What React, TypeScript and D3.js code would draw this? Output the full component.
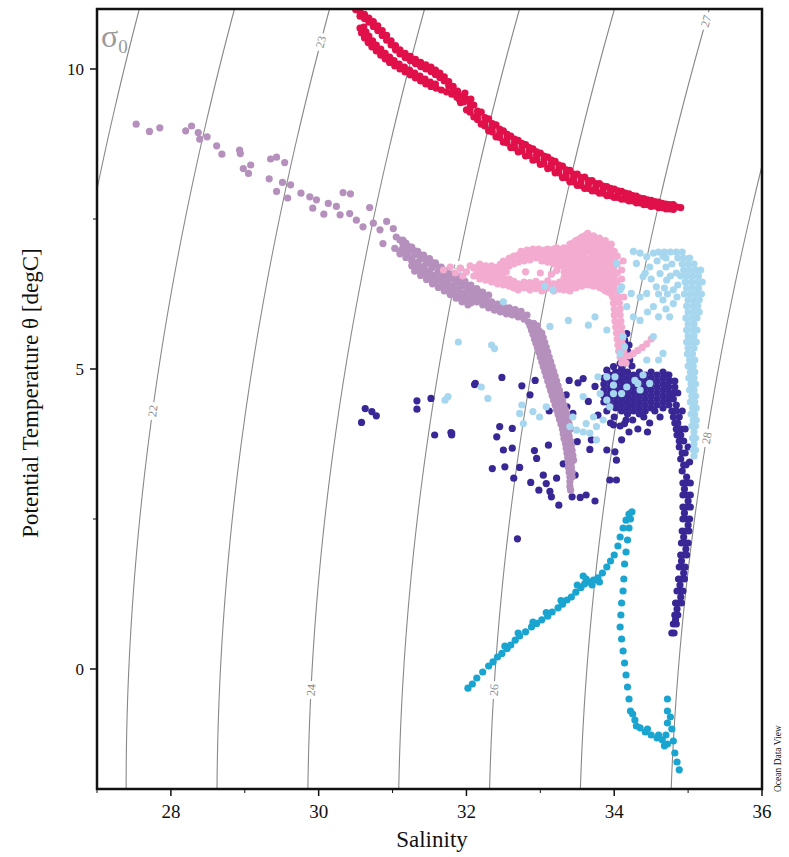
import React from "react";
import * as d3 from "d3";

// ---------- data (Salinity, Potential temperature) ----------
const redSeries: [number, number][] = [
  [30.5,10.99],[30.56,10.95],[30.62,10.91],[30.68,10.85],[30.74,10.79],[30.8,10.72],[30.86,10.64],[30.92,10.56],[30.98,10.47],[31.04,10.39],[31.1,10.32],[31.17,10.26],[31.24,10.21],[31.31,10.16],[31.38,10.11],[31.45,10.07],[31.52,10.03],[31.58,9.98],[31.64,9.93],[31.7,9.87],[31.76,9.79],[31.82,9.71],[31.88,9.63],[31.94,9.55],
  [30.56,10.88],[30.62,10.84],[30.68,10.78],[30.74,10.71],[30.8,10.64],[30.86,10.56],[30.92,10.48],[30.98,10.4],[31.04,10.32],[31.1,10.25],[31.17,10.19],[31.24,10.14],[31.31,10.09],[31.38,10.04],[31.45,10.0],[31.52,9.96],[31.58,9.91],[31.64,9.86],[31.7,9.8],[31.76,9.72],[31.82,9.64],[31.88,9.56],
  [30.56,10.68],[30.58,10.6],[30.62,10.52],[30.67,10.44],[30.72,10.37],[30.78,10.3],[30.84,10.23],[30.9,10.17],[30.96,10.11],[31.03,10.05],[31.1,10.0],[31.17,9.95],[31.24,9.9],[31.31,9.85],[31.38,9.8],[31.45,9.75],[31.52,9.71],[31.59,9.68],[31.66,9.65],[31.73,9.62],[31.8,9.58],[31.87,9.53],
  [30.61,10.7],[30.64,10.62],[30.68,10.55],[30.73,10.47],[30.78,10.4],[30.84,10.33],[30.9,10.26],[30.96,10.2],[31.02,10.14],[31.09,10.08],[31.16,10.03],[31.23,9.98],[31.3,9.93],[31.37,9.88],[31.44,9.83],[31.51,9.78],[31.58,9.75],
  [31.96,9.45],[32.05,9.35],[32.15,9.23],[32.25,9.12],[32.35,9.02],[32.45,8.93],[32.55,8.84],[32.65,8.76],[32.75,8.7],[32.85,8.63],[32.95,8.56],[33.05,8.49],[33.15,8.41],[33.25,8.33],[33.35,8.25],[33.45,8.18],[33.55,8.12],[33.65,8.07],[33.75,8.03],[33.85,7.99],[33.95,7.95],[34.05,7.92],[34.15,7.88],[34.25,7.84],[34.35,7.81],[34.45,7.78],[34.55,7.75],[34.65,7.73],[34.75,7.71],[34.85,7.7],[34.9,7.69],
  [32.0,9.5],[32.1,9.4],[32.2,9.28],[32.3,9.17],[32.4,9.07],[32.5,8.97],[32.6,8.88],[32.7,8.81],[32.8,8.74],[32.9,8.67],[33.0,8.6],[33.1,8.53],[33.2,8.46],[33.3,8.38],[33.4,8.31],[33.5,8.25],[33.6,8.2],[33.7,8.14],[33.8,8.09],[33.9,8.04],[34.0,8.0],[34.1,7.96],[34.2,7.92],[34.3,7.88],[34.4,7.84],[34.5,7.81],[34.6,7.78],[34.7,7.75],[34.8,7.74],
  [32.0,9.32],[32.1,9.2],[32.2,9.08],[32.3,8.97],[32.4,8.87],[32.5,8.78],[32.6,8.69],[32.7,8.62],[32.8,8.55],[32.9,8.48],[33.0,8.41],[33.1,8.34],[33.2,8.27],[33.3,8.19],[33.4,8.12],[33.5,8.06],[33.6,8.01],[33.7,7.97],[33.8,7.93],[33.9,7.89],[34.0,7.86],[34.1,7.83],[34.2,7.8],[34.3,7.77],[34.4,7.74],[34.5,7.71],[34.6,7.69],[34.7,7.67],[34.8,7.66],
  [32.05,9.42],[32.15,9.3],[32.25,9.19],[32.35,9.09],[32.45,9.0],[32.55,8.91],[32.65,8.83],[32.75,8.76],[32.85,8.69],[32.95,8.62],[33.05,8.55],[33.15,8.48],[33.25,8.4],[33.35,8.32],[33.45,8.25],[33.55,8.19],[33.65,8.14],[33.75,8.09],[33.85,8.05],[33.95,8.01],[34.05,7.97],[34.15,7.93],[34.25,7.89],[34.35,7.85],[34.45,7.82],[34.55,7.79],[34.65,7.76],[34.75,7.74],
  [32.05,9.28],[32.15,9.16],[32.25,9.05],[32.35,8.95],[32.45,8.86],[32.55,8.77],[32.65,8.69],[32.75,8.63],[32.85,8.56],[32.95,8.49],[33.05,8.42],[33.15,8.35],[33.25,8.27],[33.35,8.19],[33.45,8.12],[33.55,8.06],[33.65,8.01],[33.75,7.97],[33.85,7.93],[33.95,7.89],[34.05,7.86],[34.15,7.83],[34.25,7.8],[34.35,7.77],[34.45,7.74],[34.55,7.72],[34.65,7.69],[34.75,7.67],
  [31.92,9.44],[31.98,9.6],[32.06,9.5],[31.9,9.5]
];

const mauveSeries: [number, number][] = [
  [27.53,9.08],[27.71,8.96],[27.85,9.02],[28.2,8.97],[28.28,9.05],[28.37,8.94],[28.39,8.83],[28.49,8.87],[28.62,8.72],[28.69,8.58],[28.93,8.65],[28.94,8.59],[29.08,8.4],[28.98,8.34],[29.05,8.26],[29.35,8.5],[29.43,8.53],[29.54,8.44],[29.33,8.17],[29.51,8.11],[29.62,8.07],[29.43,7.96],[29.58,7.85],[29.76,7.93],[29.88,7.87],[29.97,7.82],[29.92,7.68],[30.07,7.58],[30.13,7.76],[30.24,7.71],[30.33,7.94],[30.43,7.92],[30.29,7.57],[30.42,7.59],[30.51,7.48],[30.6,7.37],[30.69,7.69],[30.74,7.43],[30.83,7.32],[30.87,7.09],[30.92,7.46],[31.01,7.34],[31.05,7.2],[31.03,7.01],[31.14,7.15],[31.21,6.87],
  [31.1,7.15],[31.18,7.1],[31.26,7.03],[31.34,6.96],[31.42,6.9],[31.5,6.84],[31.58,6.77],[31.66,6.7],[31.74,6.64],[31.82,6.58],[31.9,6.52],[31.98,6.46],[32.06,6.4],[32.14,6.34],[32.22,6.28],[32.3,6.23],
  [31.14,7.02],[31.22,6.97],[31.3,6.9],[31.38,6.83],[31.46,6.76],[31.54,6.69],[31.62,6.62],[31.7,6.56],[31.78,6.5],[31.86,6.44],[31.94,6.38],[32.02,6.32],[32.1,6.27],[32.18,6.22],[32.26,6.17],[32.34,6.12],[32.42,6.08],[32.5,6.05],[32.58,6.02],[32.66,5.99],[32.74,5.96],[32.82,5.9],
  [31.1,6.92],[31.18,6.86],[31.26,6.8],[31.34,6.73],[31.42,6.66],[31.5,6.59],[31.58,6.52],[31.66,6.46],[31.74,6.4],[31.82,6.34],[31.9,6.28],[31.98,6.22],[32.06,6.17],[32.14,6.12],[32.22,6.07],[32.3,6.02],[32.38,5.98],[32.46,5.95],[32.54,5.92],[32.62,5.9],[32.7,5.87],[32.78,5.83],[32.84,5.78],
  [31.3,6.63],[31.38,6.56],[31.46,6.49],[31.54,6.42],[31.62,6.36],[31.7,6.3],[31.78,6.24],[31.86,6.18],[31.94,6.12],[32.02,6.07],
  [31.14,7.09],[31.22,7.04],[31.3,6.97],[31.38,6.9],[31.46,6.83],[31.54,6.77],[31.62,6.7],[31.7,6.63],[31.78,6.57],[31.86,6.51],[31.94,6.45],[32.02,6.39],[32.1,6.33],[32.18,6.28],[32.26,6.22],
  [31.1,6.97],[31.18,6.92],[31.26,6.85],[31.34,6.78],[31.42,6.71],[31.5,6.64],[31.58,6.57],[31.66,6.51],[31.74,6.45],[31.82,6.39],[31.9,6.33],[31.98,6.27],[32.06,6.22],[32.14,6.17],[32.22,6.12],[32.3,6.08],[32.38,6.03],[32.46,6.0],[32.54,5.97],[32.62,5.95],[32.7,5.92],[32.78,5.87],
  [31.26,6.72],[31.34,6.65],[31.42,6.58],[31.5,6.51],[31.58,6.44],[31.66,6.38],[31.74,6.32],[31.82,6.26],[31.9,6.2],[31.98,6.15],[32.06,6.1],
  [32.86,5.72],[32.88,5.65],[32.9,5.58],[32.92,5.5],[32.94,5.43],[32.96,5.36],[32.98,5.28],[33.0,5.2],[33.02,5.12],[33.04,5.04],[33.06,4.96],[33.08,4.88],[33.1,4.8],[33.12,4.72],[33.14,4.64],[33.16,4.56],[33.18,4.48],[33.2,4.4],[33.22,4.32],[33.24,4.24],[33.26,4.16],[33.28,4.08],[33.3,4.0],[33.31,3.92],[33.32,3.84],[33.34,3.76],[33.35,3.68],[33.36,3.6],[33.37,3.52],[33.38,3.44],[33.38,3.36],[33.39,3.28],[33.4,3.2],[33.4,3.12],[33.4,3.04],[33.41,2.98],
  [32.91,5.76],[32.93,5.68],[32.95,5.6],[32.97,5.52],[32.99,5.44],[33.01,5.36],[33.03,5.28],[33.05,5.2],[33.07,5.12],[33.09,5.04],[33.11,4.96],[33.13,4.88],[33.15,4.8],[33.17,4.72],[33.19,4.64],[33.21,4.56],[33.23,4.48],[33.25,4.4],[33.27,4.32],[33.29,4.24],[33.31,4.16],[33.32,4.08],[33.34,4.0],[33.35,3.92],[33.36,3.84],[33.38,3.76],[33.39,3.68],[33.4,3.6],[33.41,3.52],[33.42,3.44],[33.42,3.36],[33.43,3.28],[33.43,3.2],
  [32.96,5.72],[32.98,5.64],[33.0,5.56],[33.02,5.48],[33.04,5.4],[33.06,5.32],[33.08,5.24],[33.1,5.16],[33.12,5.08],[33.14,5.0],[33.16,4.92],[33.18,4.84],[33.2,4.76],[33.22,4.68],[33.24,4.6],[33.26,4.52],[33.28,4.44],[33.3,4.36],[33.32,4.28],[33.34,4.2],[33.35,4.12],[33.37,4.04],[33.38,3.96],[33.39,3.88],[33.41,3.8],[33.42,3.72],[33.43,3.64],[33.44,3.56],[33.45,3.48],
  [33.02,5.6],[33.04,5.52],[33.06,5.44],[33.08,5.36],[33.1,5.28],[33.12,5.2],[33.14,5.12],[33.16,5.04],[33.18,4.96],[33.2,4.88],[33.22,4.8],[33.24,4.72],[33.26,4.64],[33.28,4.56],[33.3,4.48],[33.32,4.4],[33.34,4.32],[33.36,4.24],[33.38,4.16],[33.39,4.08],[33.41,4.0]
];

const pinkSeries: [number, number][] = [
  [31.69,6.65],[31.78,6.7],[31.85,6.6],[31.92,6.68],[32.0,6.62],[32.05,6.72],[31.95,6.55],
  [32.1,6.55],[32.1,6.68],[32.18,6.5],[32.18,6.62],[32.18,6.75],[32.26,6.48],[32.26,6.6],[32.26,6.72],[32.34,6.45],[32.34,6.58],[32.34,6.72],[32.42,6.42],[32.42,6.55],[32.42,6.7],[32.5,6.4],[32.5,6.52],[32.5,6.68],[32.5,6.8],[32.58,6.38],[32.58,6.5],[32.58,6.72],[32.58,6.85],[32.64,6.35],[32.64,6.46],[32.64,6.75],[32.64,6.88],
  [32.14,6.58],[32.14,6.7],[32.22,6.55],[32.22,6.68],[32.3,6.52],[32.3,6.65],[32.38,6.5],[32.38,6.64],[32.46,6.46],[32.46,6.6],[32.46,6.75],[32.54,6.45],[32.54,6.62],[32.54,6.78],[32.62,6.42],[32.62,6.8],
  [32.7,6.78],[32.7,6.9],[32.78,6.8],[32.78,6.92],[32.86,6.82],[32.86,6.95],[32.94,6.85],[32.94,6.98],[33.02,6.8],[33.02,6.95],[33.1,6.78],[33.1,6.92],[33.1,7.0],[33.18,6.75],[33.18,6.88],[33.18,7.0],[33.26,6.72],[33.26,6.85],[33.26,6.98],
  [32.74,6.84],[32.74,6.96],[32.82,6.86],[32.82,6.98],[32.9,6.9],[32.9,7.0],[32.98,6.88],[32.98,7.0],[33.06,6.86],[33.06,6.98],[33.14,6.82],[33.14,6.96],[33.22,6.8],[33.22,6.92],[33.22,7.02],[33.3,6.78],[33.3,6.9],[33.3,7.0],
  [32.7,6.32],[32.7,6.42],[32.78,6.35],[32.78,6.45],[32.86,6.32],[32.86,6.44],[32.94,6.34],[32.94,6.46],[33.02,6.3],[33.02,6.42],[33.1,6.35],[33.1,6.47],[33.18,6.3],[33.18,6.42],[33.26,6.33],[33.26,6.45],
  [32.74,6.38],[32.82,6.4],[32.9,6.38],[32.98,6.36],[33.06,6.38],[33.14,6.4],[33.22,6.38],[33.3,6.36],
  [32.8,6.62],[33.0,6.6],[33.15,6.58],[33.22,6.64],
  [33.32,6.32],[33.32,6.42],[33.32,6.52],[33.32,6.62],[33.32,6.72],[33.32,6.82],[33.32,6.92],[33.32,7.02],
  [33.4,6.3],[33.4,6.4],[33.4,6.5],[33.4,6.6],[33.4,6.7],[33.4,6.8],[33.4,6.9],[33.4,7.0],[33.4,7.08],
  [33.48,6.35],[33.48,6.45],[33.48,6.55],[33.48,6.75],[33.48,6.85],[33.48,6.95],[33.48,7.05],[33.48,7.14],
  [33.56,6.38],[33.56,6.48],[33.56,6.58],[33.56,6.68],[33.56,6.78],[33.56,6.9],[33.56,7.0],[33.56,7.1],[33.56,7.2],
  [33.64,6.4],[33.64,6.5],[33.64,6.6],[33.64,6.7],[33.64,6.8],[33.64,6.96],[33.64,7.06],[33.64,7.16],[33.64,7.26],
  [33.72,6.38],[33.72,6.48],[33.72,6.58],[33.72,6.68],[33.72,6.78],[33.72,6.88],[33.72,7.02],[33.72,7.12],[33.72,7.22],
  [33.8,6.36],[33.8,6.46],[33.8,6.56],[33.8,6.66],[33.8,6.76],[33.8,6.86],[33.8,6.96],[33.8,7.08],[33.8,7.18],
  [33.88,6.3],[33.88,6.4],[33.88,6.5],[33.88,6.6],[33.88,6.74],[33.88,6.84],[33.88,6.94],[33.88,7.04],[33.88,7.14],
  [33.96,6.25],[33.96,6.35],[33.96,6.45],[33.96,6.55],[33.96,6.65],[33.96,6.78],[33.96,6.88],[33.96,6.98],[33.96,7.08],
  [33.36,6.37],[33.36,6.47],[33.36,6.57],[33.36,6.67],[33.36,6.77],[33.36,6.87],[33.36,6.97],
  [33.44,6.35],[33.44,6.45],[33.44,6.55],[33.44,6.65],[33.44,6.8],[33.44,6.9],[33.44,7.0],[33.44,7.1],
  [33.52,6.4],[33.52,6.5],[33.52,6.62],[33.52,6.72],[33.52,6.84],[33.52,6.95],[33.52,7.05],[33.52,7.16],
  [33.6,6.42],[33.6,6.54],[33.6,6.64],[33.6,6.74],[33.6,6.86],[33.6,7.0],[33.6,7.12],[33.6,7.22],
  [33.68,6.4],[33.68,6.52],[33.68,6.62],[33.68,6.74],[33.68,6.84],[33.68,6.94],[33.68,7.08],[33.68,7.2],
  [33.76,6.4],[33.76,6.5],[33.76,6.6],[33.76,6.72],[33.76,6.82],[33.76,6.92],[33.76,7.04],[33.76,7.15],
  [33.84,6.34],[33.84,6.44],[33.84,6.54],[33.84,6.64],[33.84,6.78],[33.84,6.9],[33.84,7.0],[33.84,7.12],
  [33.92,6.28],[33.92,6.4],[33.92,6.5],[33.92,6.6],[33.92,6.7],[33.92,6.82],[33.92,6.92],[33.92,7.04],
  [34.0,6.3],[34.0,6.4],[34.0,6.52],[34.0,6.62],[34.0,6.72],[34.0,6.84],[34.0,6.96],
  [34.04,6.3],[34.04,6.45],[34.04,6.6],[34.04,6.75],[34.04,6.88],[34.1,6.5],[34.1,6.65],[34.12,6.8],
  [33.98,6.2],[34.06,6.2],[34.13,6.2],[33.99,6.1],[34.07,6.1],[34.0,6.0],[34.08,6.0],[34.0,5.9],[34.08,5.9],[34.01,5.8],[34.09,5.8],[34.02,5.7],[34.1,5.7],[34.03,5.6],[34.1,5.6],[34.04,5.5],[34.11,5.5],[34.05,5.4],[34.12,5.4],[34.06,5.3],[34.13,5.3],[34.08,5.2],[34.14,5.2],[34.1,5.1],[34.16,5.1],
  [34.04,6.15],[34.04,5.95],[34.05,5.75],[34.07,5.55],[34.09,5.35],
  [34.2,5.22],[34.26,5.26],[34.32,5.31],[34.38,5.36],[34.44,5.42],[34.5,5.5]
];

const lightBlueSeries: [number, number][] = [
  [34.6,6.95],[34.68,6.95],[34.76,6.95],[34.84,6.95],[34.92,6.95],[34.7,6.85],[34.86,6.85],[34.94,6.85],[35.02,6.85],[34.92,6.75],[35.0,6.75],[35.08,6.75],[34.94,6.65],[35.02,6.65],[35.1,6.65],[35.17,6.65],[34.9,6.55],[34.98,6.55],[35.06,6.55],[35.14,6.55],[34.96,6.45],[35.04,6.45],[35.12,6.45],[35.19,6.45],[34.98,6.35],[35.06,6.35],[35.14,6.35],[34.95,6.25],[35.03,6.25],[35.11,6.25],[35.18,6.25],[35.0,6.15],[35.08,6.15],[35.15,6.15],[34.98,6.05],[35.06,6.05],[35.13,6.05],[35.0,5.95],[35.08,5.95],[35.15,5.95],[34.97,5.85],[35.05,5.85],[35.12,5.85],[35.0,5.75],[35.08,5.75],[34.98,5.65],[35.06,5.65],[35.12,5.65],[35.0,5.55],[35.08,5.55],[34.98,5.45],[35.05,5.45],[35.11,5.45],[35.0,5.35],[35.08,5.35],[34.99,5.25],[35.06,5.25],[35.02,5.15],[35.09,5.15],[35.0,5.05],[35.07,5.05],[35.03,4.95],[35.09,4.95],[35.01,4.85],[35.08,4.85],[35.04,4.75],[35.1,4.75],[35.02,4.65],[35.08,4.65],[35.05,4.55],[35.1,4.55],[35.03,4.45],[35.09,4.45],[35.06,4.35],[35.11,4.35],[35.04,4.25],[35.09,4.25],[35.07,4.15],[35.11,4.15],[35.05,4.05],[35.1,4.05],[35.08,3.95],[35.06,3.85],[35.1,3.85],[35.08,3.75],[35.07,3.65],[35.1,3.65],[35.08,3.55],
  [34.26,6.96],[34.35,6.93],[34.44,6.87],[34.53,6.93],[34.3,6.76],[34.48,6.7],[34.62,6.59],[34.39,6.54],[34.71,6.48],[34.57,6.37],[34.8,6.32],[34.44,6.26],[34.66,6.15],[34.53,6.04],[34.8,6.09],[34.75,5.87],[34.6,5.87],[34.35,5.81],[34.17,6.04],[34.26,5.87],[34.23,6.26],[34.08,6.32],[34.03,6.76],[34.1,6.37],[34.53,5.54],[34.66,5.26],[34.6,5.15],[34.44,5.15],[34.32,4.76],[34.48,4.76],[34.39,4.9],[34.28,4.81],[34.35,4.65],[34.17,4.7],[34.1,4.59],[33.99,4.73],[33.9,4.87],[33.78,4.87],[34.01,4.87],[34.08,5.26],[34.14,5.37],[34.12,5.54],
  [34.7,6.7],[34.78,6.75],[34.84,6.6],[34.76,6.55],[34.68,6.35],[34.86,6.4],[34.72,6.25],[34.85,6.2],[34.58,6.8],[34.66,6.88],[34.42,6.6],[34.5,6.5],[34.35,6.2],[34.6,6.25],[34.7,6.0],[34.45,5.95],
  [33.38,5.81],[33.13,5.71],[33.65,5.73],[33.74,5.87],[33.9,5.65],[31.89,5.45],[32.34,5.4],[32.38,5.34],[32.5,6.12],[31.71,4.48],[31.75,4.54],[32.2,4.7],[32.29,4.51],[32.75,4.4],[32.72,4.26],[33.06,6.38],[33.17,6.32],
  [33.4,4.04],[33.49,3.98],[33.58,3.95],[33.67,3.93],[33.76,4.04],[33.85,4.15],[33.94,4.37],[33.99,4.59],[33.9,4.48],[33.72,4.2],[33.62,4.09],[33.76,3.82],[33.44,4.2],[33.58,4.54],[33.81,4.59],[32.77,4.09],[32.9,4.29],[32.99,4.2],[33.08,4.37]
];

const navySeries: [number, number][] = [
  [30.63,4.34],[30.72,4.29],[30.78,4.22],[30.58,4.11],[31.33,4.47],[31.33,4.33],[31.52,4.51],[31.57,3.9],[31.79,3.94],[31.8,3.9],[32.11,4.74],[32.48,4.86],[32.75,4.72],[32.93,4.81],[32.45,4.04],[32.62,4.01],[32.41,3.87],[32.5,3.65],[32.62,3.68],[32.35,3.34],[32.52,3.37],[32.72,3.36],[32.64,3.18],[32.86,4.57],[32.92,3.64],[32.95,3.51],[33.11,3.73],[33.12,4.3],[32.87,3.11],[32.98,2.98],[33.04,3.23],[33.08,3.09],[33.13,2.96],[33.15,2.87],[33.22,3.18],[33.25,2.73],[33.31,3.42],[33.47,3.23],[33.43,2.87],[33.54,2.86],[33.62,2.9],[33.74,2.8],[32.69,2.17],[33.35,4.57],[33.36,4.37],[33.44,4.26],[33.5,3.79],[33.39,4.81],[33.51,4.77],[33.65,4.46],[33.69,3.82],[33.67,3.66],[33.78,4.23],[33.9,3.65],[34.01,3.62],[34.03,3.48],[33.94,3.15],[34.03,3.15],[34.1,3.82],[34.14,4.09],[33.58,4.84],[33.74,4.71],[33.99,4.07],[32.12,4.76],[31.8,3.93],
  [34.14,5.48],[34.17,5.59],[34.21,5.15],[34.08,5.09],[34.12,5.3],[34.2,5.4],[34.16,5.2],[34.24,5.05],[33.99,5.04],[33.9,4.98],[34.14,5.1],[34.18,5.3],
  [33.86,4.45],[33.86,4.55],[33.86,4.65],[33.86,4.75],[33.86,4.85],
  [33.94,4.4],[33.94,4.5],[33.94,4.6],[33.94,4.7],[33.94,4.8],[33.94,4.9],
  [34.02,4.35],[34.02,4.45],[34.02,4.55],[34.02,4.65],[34.02,4.75],[34.02,4.85],[34.02,4.95],
  [34.1,4.3],[34.1,4.4],[34.1,4.5],[34.1,4.6],[34.1,4.7],[34.1,4.8],[34.1,4.9],[34.1,5.0],
  [34.18,4.25],[34.18,4.35],[34.18,4.45],[34.18,4.55],[34.18,4.65],[34.18,4.75],[34.18,4.85],[34.18,4.95],
  [34.26,4.3],[34.26,4.4],[34.26,4.5],[34.26,4.6],[34.26,4.7],[34.26,4.8],[34.26,4.9],
  [34.34,4.25],[34.34,4.35],[34.34,4.45],[34.34,4.55],[34.34,4.65],[34.34,4.75],[34.34,4.85],[34.34,4.95],
  [34.42,4.3],[34.42,4.4],[34.42,4.5],[34.42,4.6],[34.42,4.7],[34.42,4.8],[34.42,4.9],
  [34.5,4.35],[34.5,4.45],[34.5,4.55],[34.5,4.65],[34.5,4.75],[34.5,4.85],[34.5,4.95],
  [34.58,4.4],[34.58,4.5],[34.58,4.6],[34.58,4.7],[34.58,4.8],[34.58,4.9],
  [34.66,4.35],[34.66,4.45],[34.66,4.55],[34.66,4.65],[34.66,4.75],[34.66,4.85],[34.66,4.95],
  [34.74,4.4],[34.74,4.5],[34.74,4.6],[34.74,4.7],[34.74,4.8],[34.74,4.9],
  [33.9,4.3],[34.0,4.2],[34.08,4.05],[34.16,4.15],[34.25,4.15],[34.32,4.0],[34.4,4.2],[34.48,4.1],[34.55,4.3],[33.95,4.1],[34.2,3.95],[34.45,3.95],[34.62,4.2],
  [34.72,4.9],[34.76,4.8],[34.7,4.7],[34.8,4.6],[34.74,4.5],[34.84,4.4],[34.78,4.3],[34.88,4.2],[34.82,4.1],[34.9,4.0],[34.85,3.9],[34.94,3.8],[34.88,3.7],[34.96,3.6],[34.9,3.5],[34.97,3.4],[34.92,3.3],[34.98,3.2],[34.82,4.8],[34.86,4.6],[34.92,4.3],[34.96,4.0],[35.0,3.7],[35.02,3.45],
  [34.8,4.5],[34.84,4.3],[34.86,4.1],[34.9,3.9],[34.92,3.6],[34.94,3.4],[34.82,4.7],[34.8,4.2],[34.84,4.0],[34.88,3.8],
  [34.93,3.1],[34.98,3.1],[35.03,3.1],[34.93,2.9],[34.98,2.9],[35.03,2.9],[34.93,2.7],[34.98,2.7],[35.03,2.7],[34.93,2.5],[34.98,2.5],[35.02,2.5],[34.92,2.3],[34.97,2.3],[35.01,2.3],[34.91,2.1],[34.96,2.1],[35.0,2.1],[34.9,1.9],[34.94,1.9],[34.98,1.9],[34.88,1.7],[34.92,1.7],[34.96,1.7],[34.87,1.5],[34.91,1.5],[34.95,1.5],[34.85,1.3],[34.89,1.3],[34.93,1.3],[34.83,1.1],[34.87,1.1],[34.91,1.1],[34.82,0.9],[34.86,0.9],[34.8,0.75],[34.84,0.75],[34.78,0.6],[34.81,0.6],
  [34.95,3.0],[35.0,2.8],[34.95,2.6],[35.0,2.4],[34.94,2.2],[34.97,2.0],[34.91,1.8],[34.94,1.6],[34.89,1.4],[34.9,1.2],[34.85,1.0],[34.83,0.82]
];

const cyanSeries: [number, number][] = [
  [32.02,-0.32],[32.08,-0.25],[32.14,-0.15],[32.22,-0.05],[32.3,0.05],[32.36,0.12],[32.42,0.2],[32.48,0.26],[32.55,0.34],[32.6,0.4],[32.66,0.48],[32.72,0.55],[32.8,0.62],[32.88,0.7],[32.95,0.76],[33.02,0.82],[33.1,0.88],[33.16,0.95],[33.24,1.02],[33.3,1.08],[33.36,1.15],[33.42,1.2],[33.48,1.28],[33.55,1.36],[33.6,1.42],[33.66,1.45],[33.72,1.48],[33.78,1.52],[33.84,1.6],[33.9,1.7],[33.95,1.8],[34.0,1.9],[34.05,2.05],[34.08,2.2],[34.12,2.35],[34.16,2.48],[34.2,2.58],[34.24,2.62],[34.22,2.5],[34.2,2.35],[34.18,2.15],[34.16,1.95],[34.14,1.75],[34.13,1.5],[34.12,1.3],[34.1,1.1],[34.09,0.9],[34.08,0.7],[34.1,0.5],[34.12,0.3],[34.14,0.1],[34.16,-0.1],[34.18,-0.3],[34.2,-0.5],[34.22,-0.7],[34.28,-0.85],[34.35,-0.98],[34.42,-1.05],[34.5,-1.1],[34.58,-1.15],[34.65,-1.18],[34.72,-1.25],[34.7,-1.1],[34.72,-0.9],[34.72,-0.7],[34.72,-0.5],[34.76,-0.8],[34.78,-1.0],[34.8,-1.2],[34.82,-1.4],[34.85,-1.55],[34.88,-1.68],
  [32.52,0.38],[32.7,0.6],[32.9,0.78],[33.08,0.94],[33.28,1.14],[33.5,1.4],[33.62,1.5],[33.7,1.4],[33.8,1.45],[33.58,1.55],[34.3,-0.95],[34.45,-1.0],[34.6,-1.1],[34.25,-0.75],[34.68,-1.28]
];

const xTicks = [28, 30, 32, 34, 36];
const xMinorTicks = [27, 29, 31, 33, 35];
const yTicks = [0, 5, 10];
const yMinorTicks = [2.5, 7.5];
const sigmaLevels = [21, 22, 23, 24, 25, 26, 27, 28, 29];
// label positions: [sigma level, temperature where the label sits]
const sigmaLabels: [number, number][] = [[22, 4.3], [23, 10.45], [24, -0.35], [25, 6.65], [26, -0.35], [27, 10.8], [28, 3.85]];

const seriesList = [
  { name: "navy", data: navySeries, color: "#3a2796" },
  { name: "cyan", data: cyanSeries, color: "#1aa4d0" },
  { name: "mauve", data: mauveSeries, color: "#b590bd" },
  { name: "pink", data: pinkSeries, color: "#f3abcf" },
  { name: "lightblue", data: lightBlueSeries, color: "#a7d7ef" },
  { name: "red", data: redSeries, color: "#e0104a" },
];

// UNESCO EOS-80 surface density anomaly
function sigma0(S: number, T: number) {
  const rw = 999.842594 + 6.793952e-2 * T - 9.09529e-3 * T * T + 1.001685e-4 * T ** 3 - 1.120083e-6 * T ** 4 + 6.536332e-9 * T ** 5;
  const A = 0.824493 - 4.0899e-3 * T + 7.6438e-5 * T * T - 8.2467e-7 * T ** 3 + 5.3875e-9 * T ** 4;
  const B = -5.72466e-3 + 1.0227e-4 * T - 1.6546e-6 * T * T;
  const C = 4.8314e-4;
  return rw + A * S + B * S ** 1.5 + C * S * S - 1000;
}
function salForSigma(level: number, T: number) {
  let lo = 15, hi = 45;
  for (let i = 0; i < 60; i++) {
    const mid = (lo + hi) / 2;
    if (sigma0(mid, T) < level) lo = mid; else hi = mid;
  }
  return (lo + hi) / 2;
}

const W = 789, H = 857;
const L = 97, R = 762, T0 = 9, B0 = 789;

export default function App() {
  const x = d3.scaleLinear().domain([27, 36]).range([L, R]);
  const y = d3.scaleLinear().domain([-2, 11]).range([B0, T0]);
  const temps = d3.range(-2.5, 11.6, 0.1);
  const line = d3.line<[number, number]>().x((d) => x(d[0])).y((d) => y(d[1]));
  const serif = "'Liberation Serif', 'Times New Roman', serif";

  return (
    <svg width={W} height={H} style={{ position: "absolute", left: 0, top: 0, background: "#fff" }} fontFamily={serif}>
      <defs>
        <clipPath id="plotclip">
          <rect x={L} y={T0} width={R - L} height={B0 - T0} />
        </clipPath>
      </defs>
      <rect x={0} y={0} width={W} height={H} fill="#fff" />
      <g clipPath="url(#plotclip)">
        {sigmaLevels.map((lv) => (
          <path key={lv} d={line(temps.map((t) => [salForSigma(lv, t), t] as [number, number])) || ""} fill="none" stroke="#888" strokeWidth={1.1} />
        ))}
        {sigmaLabels.map(([lv, t]) => {
          const s = salForSigma(lv, t);
          const s2 = salForSigma(lv, t + 0.2);
          const ang = (Math.atan2(y(t + 0.2) - y(t), x(s2) - x(s)) * 180) / Math.PI;
          return (
            <g key={lv} transform={`translate(${x(s)},${y(t)}) rotate(${ang})`}>
              <rect x={-9} y={-6} width={18} height={12} fill="#fff" />
              <text textAnchor="middle" dy="0.35em" fontSize={12} fill="#8c8c8c">{lv}</text>
            </g>
          );
        })}
        <text x={101} y={47} fontSize={32} fill="#9a9a9a">σ<tspan fontSize={19} dy={6}>0</tspan></text>
        {seriesList.map((sr) => (
          <g key={sr.name} fill={sr.color}>
            {sr.data.map((d, i) => (
              <circle key={i} cx={x(d[0])} cy={y(d[1])} r={3.6} />
            ))}
          </g>
        ))}
      </g>
      <rect x={L} y={T0} width={R - L} height={B0 - T0} fill="none" stroke="#111" strokeWidth={2.5} />
      {xTicks.map((t) => (
        <g key={t}>
          <line x1={x(t)} x2={x(t)} y1={B0} y2={B0 + 7} stroke="#111" strokeWidth={1.5} />
          <text x={x(t)} y={B0 + 29} textAnchor="middle" fontSize={19} fill="#111">{t}</text>
        </g>
      ))}
      {xMinorTicks.map((t) => (
        <line key={t} x1={x(t)} x2={x(t)} y1={B0} y2={B0 + 4} stroke="#111" strokeWidth={1} />
      ))}
      {yTicks.map((t) => (
        <g key={t}>
          <line x1={L - 7} x2={L} y1={y(t)} y2={y(t)} stroke="#111" strokeWidth={1.5} />
          <text x={L - 13} y={y(t)} dy="0.35em" textAnchor="end" fontSize={17} fill="#111">{t}</text>
        </g>
      ))}
      {yMinorTicks.map((t) => (
        <line key={t} x1={L - 4} x2={L} y1={y(t)} y2={y(t)} stroke="#111" strokeWidth={1} />
      ))}
      <text x={432} y={847} textAnchor="middle" fontSize={23} fill="#111">Salinity</text>
      <text transform="translate(38,393) rotate(-90)" textAnchor="middle" fontSize={23} fill="#111">Potential Temperature θ [degC]</text>
      <text transform="translate(781,792) rotate(-90)" fontSize={9.5} fill="#111">Ocean Data View</text>
    </svg>
  );
}
